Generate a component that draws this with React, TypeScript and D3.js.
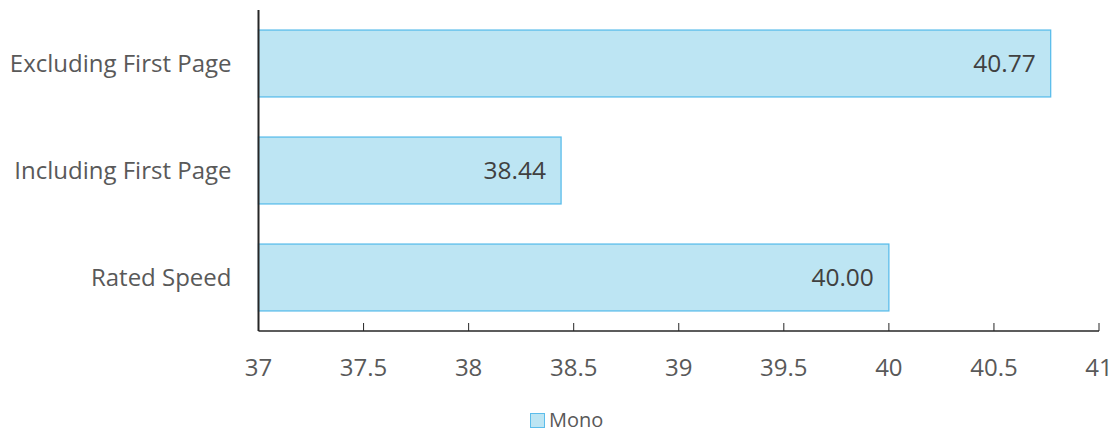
import { useMemo } from "react";
import * as d3 from "d3";

const categories = ["Excluding First Page", "Including First Page", "Rated Speed"];
const monoValues = [40.77, 38.44, 40.0];
const xTicks = [37, 37.5, 38, 38.5, 39, 39.5, 40, 40.5, 41];
const seriesName = "Mono";

const W = 1113;
const H = 433;
const FONT = "'Open Sans', 'Noto Sans', sans-serif";

export default function App() {
  const left = 258.5;
  const right = 1099;
  const top = 10;
  const bottom = 331;

  const x = useMemo(() => d3.scaleLinear().domain([37, 41]).range([left, right]), []);
  const y = useMemo(
    () => d3.scaleBand<string>().domain(categories).range([top, bottom]).paddingInner(0.375).paddingOuter(0.1875),
    []
  );

  return (
    <svg width={W} height={H} style={{ position: "absolute", left: 0, top: 0 }} fontFamily={FONT}>
      {/* bars */}
      {categories.map((c, i) => (
        <g key={c}>
          <rect
            x={x(37)}
            y={y(c)!}
            width={x(monoValues[i]) - x(37)}
            height={y.bandwidth()}
            fill="#BDE5F3"
            stroke="#5CBDEB"
            strokeWidth={1.3}
          />
          <text
            x={x(monoValues[i]) - 15}
            y={y(c)! + y.bandwidth() / 2}
            dy="0.35em"
            textAnchor="end"
            fontSize={24.5}
            fill="#404040"
          >
            {monoValues[i].toFixed(2)}
          </text>
          <text
            x={left - 27}
            y={y(c)! + y.bandwidth() / 2}
            dy="0.35em"
            textAnchor="end"
            fontSize={24}
            fill="#595959"
          >
            {c}
          </text>
        </g>
      ))}

      {/* axes */}
      <line x1={left} x2={left} y1={top} y2={bottom} stroke="#262626" strokeWidth={2} />
      <line x1={left} x2={right} y1={bottom} y2={bottom} stroke="#262626" strokeWidth={1.5} />
      {xTicks.map((t) => (
        <g key={t}>
          <line x1={x(t)} x2={x(t)} y1={bottom} y2={bottom - 8} stroke="#262626" strokeWidth={1} />
          <text x={x(t)} y={bottom + 37} dy="0.35em" textAnchor="middle" fontSize={24} fill="#595959">
            {t}
          </text>
        </g>
      ))}

      {/* legend */}
      <rect x={530.5} y={413.5} width={14} height={14} fill="#BDE5F3" stroke="#5CBDEB" strokeWidth={1} />
      <text x={549} y={420} dy="0.35em" fontSize={20} fill="#595959">
        {seriesName}
      </text>
    </svg>
  );
}
